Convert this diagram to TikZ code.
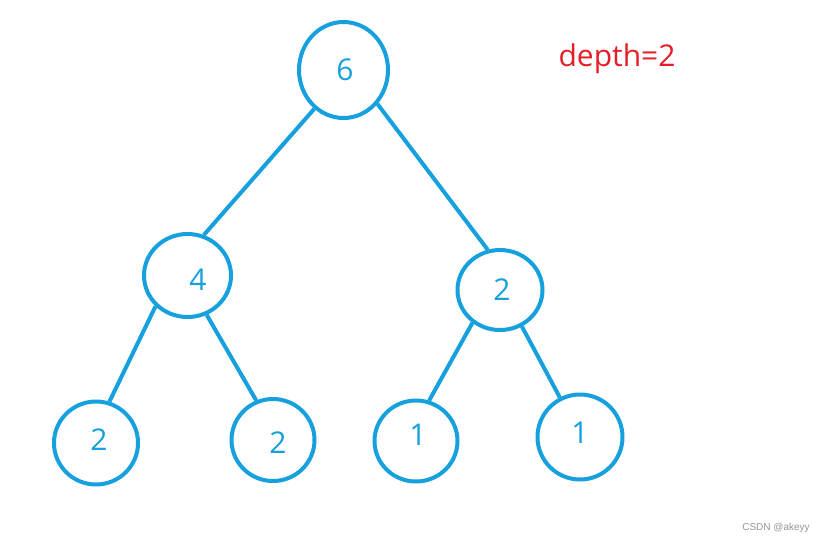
\documentclass[tikz,border=0pt]{standalone}
\usepackage{fontspec}
\usepackage{xcolor}
\usepackage{tikz}
\usetikzlibrary{shapes.geometric}
\newfontfamily\numfont{Open Sans}
\newfontfamily\markfont{Liberation Sans}
\definecolor{treeblue}{RGB}{22,160,222}
\definecolor{depthred}{RGB}{230,30,40}
\definecolor{markgray}{RGB}{150,150,150}
\tikzset{
  vert/.style={ellipse, draw=treeblue, line width=4pt, inner sep=0pt},
  num/.style={font=\numfont\fontsize{30}{36}\selectfont, text=treeblue, inner sep=0pt},
  edge/.style={draw=treeblue, line width=4pt},
}

\begin{document}
\begin{tikzpicture}[x=1pt, y=-1pt]
  \useasboundingbox[fill=white] (0,0) rectangle (824,544);

  %% ── tree nodes ──────────────────────────────────────────
  \node[vert, minimum width=89pt, minimum height=96pt,
        label={[num, xshift=1.5pt]center:6}] (root) at (343.5,70) {};
  \node[vert, minimum width=87pt, minimum height=83pt,
        label={[num, xshift=10.5pt, yshift=-4.5pt]center:4}] (left) at (187.5,275.5) {};
  \node[vert, minimum width=85pt, minimum height=80pt,
        label={[num, xshift=2pt]center:2}] (right) at (500,290) {};

  \node[vert, minimum width=84pt, minimum height=83pt,
        label={[num, xshift=3pt, yshift=3pt]center:2}] (ll) at (96,443) {};
  \node[vert, minimum width=83pt, minimum height=82pt,
        label={[num, xshift=5pt, yshift=-3pt]center:2}] (lr) at (273,440) {};
  \node[vert, minimum width=83pt, minimum height=81pt,
        label={[num, xshift=2pt, yshift=6pt]center:1}] (rl) at (416,441) {};
  \node[vert, minimum width=85pt, minimum height=85pt,
        label={[num, yshift=4pt]center:1}] (rr) at (580,437) {};

  %% ── edges ───────────────────────────────────────────────
  \draw[edge] (root.233) -- (left.68);
  \draw[edge] (root.315) -- (right.107);
  \draw[edge] (left.224) -- (ll.72);
  \draw[edge] (left.296) -- (lr.113);
  \draw[edge] (right.230) -- (rl.72);
  \draw[edge] (right.301) -- (rr.117);

  % depth note
  \node[font=\numfont\fontsize{30}{36}\selectfont, text=depthred] (depth)
    at (617,59) {depth=2};

  % watermark
  \node[font=\markfont\fontsize{10}{12}\selectfont, text=markgray] (mark)
    at (776,528) {CSDN @akeyy};

\end{tikzpicture}
\end{document}
